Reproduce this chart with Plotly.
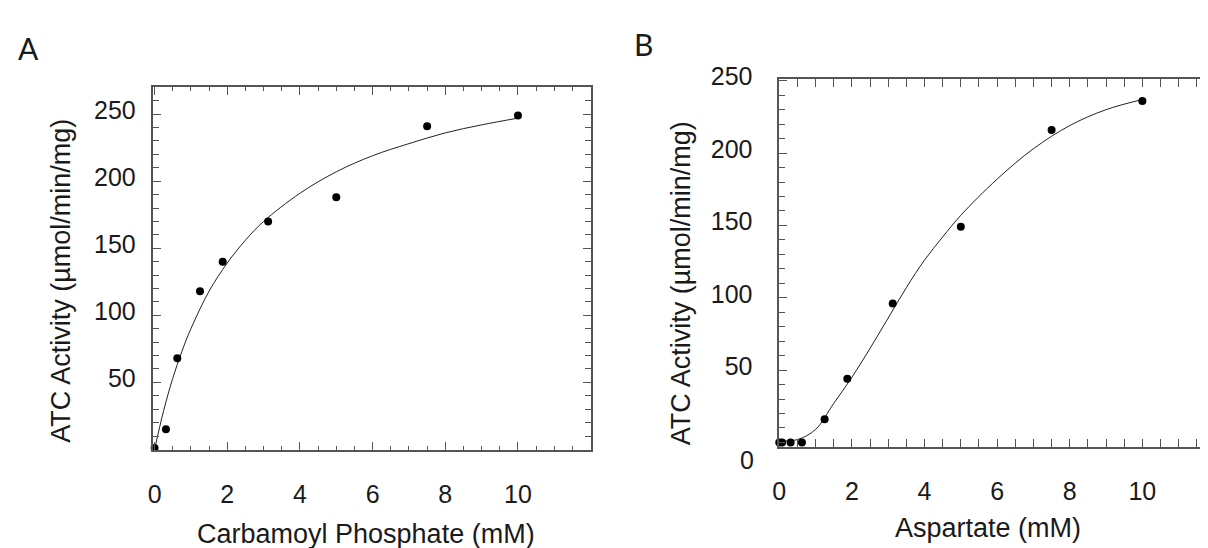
import plotly.graph_objects as go

# ---------------- data ----------------
cp_conc = [0, 0.3125, 0.625, 1.25, 1.875, 3.125, 5, 7.5, 10]
cp_activity = [1, 15, 68, 118, 140, 170, 188, 241, 249]

cp_fit_x = [0, 0.25, 0.5, 0.75, 1, 1.5, 2, 2.5, 3, 4, 5, 6, 7, 8, 9, 10]
cp_fit_y = [0, 29, 53, 73, 90, 118, 139, 156, 170, 191, 207, 219, 228, 236, 242, 247]

asp_conc = [0, 0.078, 0.3125, 0.625, 1.25, 1.875, 3.125, 5, 7.5, 10]
asp_activity = [0, 0, 0, 0, 16, 44, 96, 149, 216, 236]

asp_fit_x = [0, 0.5, 1, 1.5, 2, 2.5, 3, 3.5, 4, 4.5, 5, 6, 7, 8, 9, 10]
asp_fit_y = [1, 2, 9, 27, 45, 65, 86, 107, 126, 142, 157, 182, 203, 219, 230, 237]

x_ticks = [0, 2, 4, 6, 8, 10]
y_ticks = [50, 100, 150, 200, 250]

panel_labels = ["A", "B"]
x_titles = ["Carbamoyl Phosphate (mM)", "Aspartate (mM)"]
y_title = "ATC Activity (µmol/min/mg)"

# ---------------- layout geometry ----------------
W, H = 1208, 548
OFF = 8  # page body margin of the browser
AX = "#555555"
TXT = "#1a1a1a"
FONT = "Liberation Sans, Arial, sans-serif"
TICKF = dict(family=FONT, size=25, color=TXT)
TITLEF = dict(family=FONT, size=27, color=TXT)
LABF = dict(family="Lato, Open Sans, sans-serif", size=30, color=TXT)


def px(x):
    return (x - OFF) / W


def py(y):
    return 1 - (y - OFF) / H


fig = go.Figure()

marker = dict(color="black", size=8)
line = dict(color="#222222", width=1, shape="spline", smoothing=1.0)

fig.add_trace(go.Scatter(x=cp_fit_x, y=cp_fit_y, mode="lines", line=line,
                         xaxis="x", yaxis="y", showlegend=False, hoverinfo="skip"))
fig.add_trace(go.Scatter(x=cp_conc, y=cp_activity, mode="markers", marker=marker,
                         xaxis="x", yaxis="y", showlegend=False, cliponaxis=False))
fig.add_trace(go.Scatter(x=asp_fit_x, y=asp_fit_y, mode="lines", line=line,
                         xaxis="x2", yaxis="y2", showlegend=False, hoverinfo="skip"))
fig.add_trace(go.Scatter(x=asp_conc, y=asp_activity, mode="markers", marker=marker,
                         xaxis="x2", yaxis="y2", showlegend=False, cliponaxis=False))
# carrier for the right-hand tick marks of panel B
fig.add_trace(go.Scatter(x=[None], y=[None], xaxis="x2", yaxis="y3",
                         showlegend=False, hoverinfo="skip"))

common_x = dict(
    tickvals=x_ticks, ticks="inside", ticklen=8, tickwidth=1.3, tickcolor=AX,
    showline=True, linecolor=AX, linewidth=1.5, mirror="allticks",
    showgrid=False, zeroline=False, tickfont=TICKF, ticklabelstandoff=21,
    minor=dict(dtick=0.5, ticks="inside", ticklen=4, tickwidth=1.1, tickcolor=AX, showgrid=False),
)
common_y = dict(
    tickvals=y_ticks, ticks="inside", ticklen=8, tickwidth=1.3, tickcolor=AX,
    showline=True, linecolor=AX, linewidth=1.5,
    showgrid=False, zeroline=False, tickfont=TICKF, ticklabelshift=-4,
    minor=dict(dtick=10, ticks="inside", ticklen=6, tickwidth=1.1, tickcolor=AX, showgrid=False),
)

fig.update_layout(
    width=W, height=H,
    margin=dict(l=0, r=0, t=0, b=0),
    paper_bgcolor="white", plot_bgcolor="white",
    xaxis=dict(common_x, domain=[px(147.3), px(587)], range=[-0.03, 12.0], anchor="y"),
    yaxis=dict(common_y, domain=[py(446.7), py(72.3)], range=[-0.5, 270], anchor="x",
               mirror="allticks", ticklabelstandoff=11),
    xaxis2=dict(common_x, domain=[px(776.7), px(1215)], range=[0, 12.0], anchor="y2"),
    yaxis2=dict(common_y, domain=[py(443.3), py(64)], range=[-3, 251], anchor="x2",
                mirror=False, ticklabelstandoff=20),
    yaxis3=dict(overlaying="y2", side="right", anchor="free", position=px(1215),
                range=[-3, 251], tickvals=[0] + y_ticks, ticks="inside", ticklen=9,
                tickwidth=1.3, tickcolor=AX, showline=False, showticklabels=False,
                showgrid=False, zeroline=False),
)

annotations = [
    dict(text=panel_labels[0], x=px(21.7), y=py(32), xanchor="center", yanchor="middle",
         xref="paper", yref="paper", showarrow=False, font=LABF),
    dict(text=panel_labels[1], x=px(640), y=py(28), xanchor="center", yanchor="middle",
         xref="paper", yref="paper", showarrow=False, font=LABF),
    dict(text=y_title, x=px(53.5), y=py(271.7), xanchor="center", yanchor="middle",
         xref="paper", yref="paper", textangle=-90, showarrow=False, font=TITLEF),
    dict(text=y_title, x=px(677.5), y=py(275), xanchor="center", yanchor="middle",
         xref="paper", yref="paper", textangle=-90, showarrow=False, font=TITLEF),
    dict(text=x_titles[0], x=px(361), y=py(533), xanchor="center", yanchor="middle",
         xref="paper", yref="paper", showarrow=False, font=TITLEF),
    dict(text=x_titles[1], x=px(987), y=py(527), xanchor="center", yanchor="middle",
         xref="paper", yref="paper", showarrow=False, font=TITLEF),
    dict(text="0", x=px(753.5), y=py(456.7), xanchor="right", yanchor="middle",
         xref="paper", yref="paper", showarrow=False, font=TICKF),
]
fig.update_layout(annotations=annotations)

fig.write_html("out.html")
